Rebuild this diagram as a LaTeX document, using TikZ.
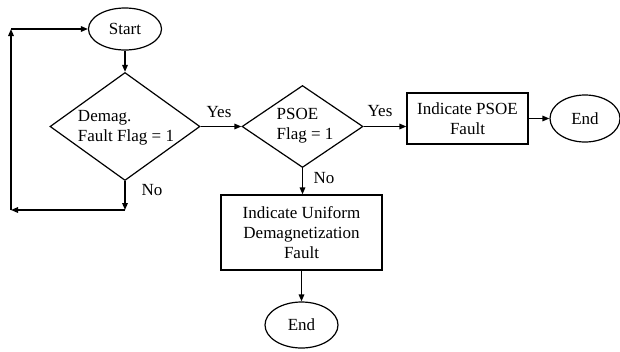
\documentclass[tikz,border=0pt]{standalone}
\usepackage{fontspec}
\setmainfont{Liberation Serif}
\usetikzlibrary{shapes.geometric,arrows.meta}
\begin{document}
\begin{tikzpicture}[x=1pt,y=-1pt,
  line width=1.2pt,
  every node/.style={font=\fontsize{17}{20}\selectfont},
  arr/.style={-{Triangle[length=7pt,width=5.5pt]},line width=1.5pt},
  term/.style={draw,ellipse,inner sep=0pt},
  dec/.style={draw,diamond,inner sep=0pt},
  proc/.style={draw,rectangle,inner sep=0pt,align=center},
  txt/.style={align=left,inner sep=0pt},
  lbl/.style={inner sep=0pt}]
\useasboundingbox (0,0) rectangle (620,351);
\node[term,minimum width=73pt,minimum height=42pt] (start) at (125,29) {Start};
\node[dec,minimum width=150pt,minimum height=108pt] (d1) at (125,126.5) {};
\node[txt] (d1t) at (126,128) {Demag.\\Fault Flag = 1};
\node[dec,minimum width=121pt,minimum height=82pt] (d2) at (302.5,126.5) {};
\node[txt] (d2t) at (305,126) {PSOE\\Flag = 1};
\node[proc,minimum width=121pt,minimum height=51pt] (b1) at (467.5,118.5) {Indicate PSOE\\Fault};
\node[term,minimum width=70pt,minimum height=47pt] (end1) at (585,118.5) {End};
\node[proc,minimum width=161pt,minimum height=75pt] (b2) at (301.5,232.5) {Indicate Uniform\\Demagnetization\\Fault};
\node[term,minimum width=73pt,minimum height=46pt] (end2) at (301.5,325) {End};
\coordinate (c1) at (125,210);
\coordinate (c2) at (11,210);
\coordinate (c3) at (11,29);
\draw[arr] (start) -- (d1);
\draw[arr] (d1.east) -- (d2.west);
\draw[arr] (d2.east) -- (d2.east -| b1.west);
\draw[arr] (b1.east) -- (end1.west);
\draw[arr] (d2.south) -- (d2.south |- b2.north);
\draw[arr] (b2.south -| end2.north) -- (end2.north);
\draw[arr] (d1.south) -- (c1);
\draw[arr] (c1) -- (c2);
\draw[arr] (c2) -- (c3);
\draw[arr] (c3) -- (start.west);
\node[lbl] (y1) at (219,112) {Yes};
\node[lbl] (y2) at (380,111) {Yes};
\node[lbl] (n1) at (152,190) {No};
\node[lbl] (n2) at (324,178) {No};
\end{tikzpicture}
\end{document}
